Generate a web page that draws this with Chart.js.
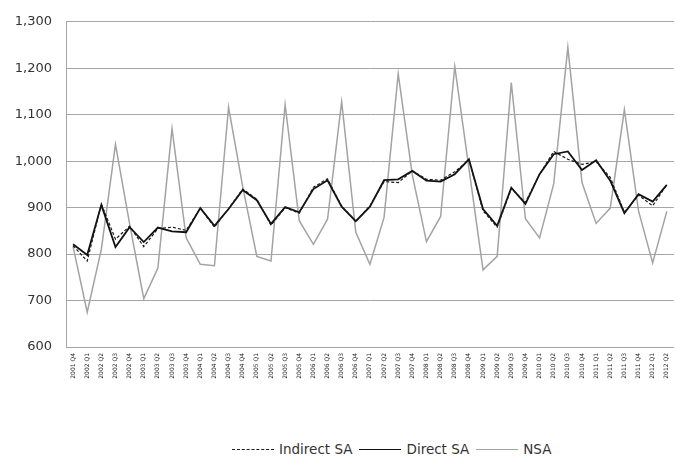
<!DOCTYPE html>
<html>
<head>
<meta charset="utf-8">
<script src="https://cdn.jsdelivr.net/npm/chart.js@4/dist/chart.umd.min.js"></script>
<style>
  html, body { margin: 0; padding: 0; background: #fff; overflow: hidden; width: 675px; height: 458px; }
  #wrap { position: relative; width: 675px; height: 458px; overflow: hidden; }
  #chart { position: absolute; left: 0; top: 0; }
  #legend { position: absolute; left: 232px; top: 441px; display: flex; align-items: center;
            font-family: "DejaVu Sans", sans-serif; font-size: 13.5px; color: #333; white-space: nowrap; }
  .sw { display: inline-block; width: 42px; height: 0; margin-right: 5px; }
  .lbl { margin-right: 7px; }
</style>
</head>
<body>
<div id="wrap">
  <canvas id="chart" width="680" height="400"></canvas>
  <div id="legend"></div>
</div>
<script>
// Quarterly periods, 2001 Q4 to 2012 Q2
const quarters = [
  "2001 Q4",
  "2002 Q1","2002 Q2","2002 Q3","2002 Q4",
  "2003 Q1","2003 Q2","2003 Q3","2003 Q4",
  "2004 Q1","2004 Q2","2004 Q3","2004 Q4",
  "2005 Q1","2005 Q2","2005 Q3","2005 Q4",
  "2006 Q1","2006 Q2","2006 Q3","2006 Q4",
  "2007 Q1","2007 Q2","2007 Q3","2007 Q4",
  "2008 Q1","2008 Q2","2008 Q3","2008 Q4",
  "2009 Q1","2009 Q2","2009 Q3","2009 Q4",
  "2010 Q1","2010 Q2","2010 Q3","2010 Q4",
  "2011 Q1","2011 Q2","2011 Q3","2011 Q4",
  "2012 Q1","2012 Q2"
];

const indirectSA = [
  818,
  785, 908, 832, 860,
  816, 855, 858, 851,
  899, 858, 898, 940,
  918, 862, 900, 888,
  944, 962, 903, 870,
  904, 956, 954, 979,
  961, 959, 977, 1003,
  893, 858, 941, 911,
  972, 1021, 1004, 993,
  999, 965, 890, 927,
  904, 949
];

const directSA = [
  821,
  798, 906, 815, 858,
  826, 857, 849, 847,
  899, 861, 897, 938,
  916, 865, 901, 890,
  940, 959, 902, 871,
  902, 959, 961, 979,
  958, 956, 972, 1004,
  897, 861, 943, 908,
  972, 1015, 1021, 981,
  1002, 958, 888, 929,
  913, 949
];

const nsa = [
  816,
  675, 810, 1036, 865,
  704, 770, 1070, 835,
  778, 775, 1116, 945,
  795, 785, 1122, 872,
  821, 875, 1128, 847,
  778, 879, 1188, 970,
  827, 881, 1204, 985,
  766, 795, 1169, 876,
  835, 951, 1245, 954,
  866, 899, 1111, 893,
  781, 892
];

const yTicks = [600, 700, 800, 900, 1000, 1100, 1200, 1300];

const seriesStyle = [
  { label: "Indirect SA", data: indirectSA, color: "#1a1a1a", width: 1.2, dash: [3, 2] },
  { label: "Direct SA",   data: directSA,   color: "#111111", width: 1.8, dash: [] },
  { label: "NSA",         data: nsa,        color: "#a3a3a3", width: 1.5, dash: [] }
];

const gridColor = "#a6a6a6";

const chart = new Chart(document.getElementById("chart"), {
  type: "line",
  data: {
    labels: quarters,
    datasets: seriesStyle.map(s => ({
      label: s.label,
      data: s.data,
      borderColor: s.color,
      borderWidth: s.width,
      borderDash: s.dash,
      pointRadius: 0,
      pointHoverRadius: 0,
      tension: 0,
      fill: false
    }))
  },
  options: {
    responsive: false,
    animation: false,
    devicePixelRatio: 1,
    layout: { padding: { top: 20, right: 0, left: 0, bottom: 0 } },
    plugins: {
      legend: { display: false },
      tooltip: { enabled: false }
    },
    scales: {
      x: {
        type: "category",
        offset: true,
        grid: { display: false, drawTicks: false },
        border: { display: true, color: gridColor, width: 1 },
        ticks: {
          autoSkip: false,
          minRotation: 90,
          maxRotation: 90,
          padding: 6,
          color: "#222",
          font: { family: "DejaVu Sans", size: 6 }
        },
        afterFit: s => { s.height = 53; }
      },
      y: {
        min: 600,
        max: 1300,
        afterBuildTicks: s => { s.ticks = yTicks.map(v => ({ value: v })); },
        grid: { color: gridColor, lineWidth: 1, drawTicks: false },
        border: { display: true, color: gridColor, width: 1 },
        ticks: {
          padding: 14,
          color: "#333",
          font: { family: "DejaVu Sans", size: 13 },
          callback: v => v.toLocaleString("en-US")
        },
        afterFit: s => { s.width = 66; }
      }
    }
  }
});

// Legend row below the plot
const legend = document.getElementById("legend");
seriesStyle.forEach(s => {
  const sw = document.createElement("span");
  sw.className = "sw";
  sw.style.borderTop = (s.dash.length ? "1px dashed " : "1.5px solid ") + s.color;
  const t = document.createElement("span");
  t.className = "lbl";
  t.textContent = s.label;
  legend.appendChild(sw);
  legend.appendChild(t);
});
</script>
</body>
</html>
